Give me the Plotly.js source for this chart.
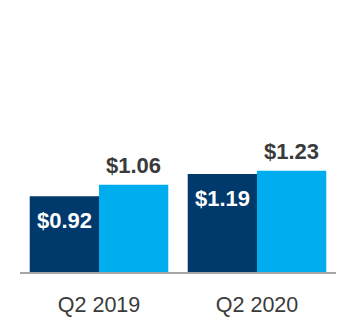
<!DOCTYPE html>
<html>
<head>
<meta charset="utf-8">
<script src="https://cdn.plot.ly/plotly-3.0.1.min.js"></script>
<style>html,body{margin:0;padding:0;background:#fff;}#chart{width:356px;height:332px;}</style>
</head>
<body>
<div id="chart"></div>
<script>
const categories = ['Q2 2019', 'Q2 2020'];
const seriesA = [0.92, 1.19];
const seriesB = [1.06, 1.23];
const fmt = v => '$' + v.toFixed(2);

const darkColor = '#00396b';
const lightColor = '#00aeef';
const textColor = '#3a3a3a';
const bargap = 0.123;
const barHalf = (1 - bargap) / 4;

const traces = [
  {type: 'bar', x: [0, 1], y: seriesA, marker: {color: darkColor}, hoverinfo: 'none'},
  {type: 'bar', x: [0, 1], y: seriesB, marker: {color: lightColor}, hoverinfo: 'none'}
];

const annotations = [];
seriesA.forEach((v, i) => annotations.push({
  x: i - barHalf, y: v, xref: 'x', yref: 'y', text: fmt(v), showarrow: false,
  yanchor: 'middle', yshift: -24,
  font: {family: 'Liberation Sans, Arial, sans-serif', size: 22, color: '#ffffff', weight: 'bold'}
}));
seriesB.forEach((v, i) => annotations.push({
  x: i + barHalf, y: v, xref: 'x', yref: 'y', text: fmt(v), showarrow: false,
  yanchor: 'middle', yshift: 19,
  font: {family: 'Liberation Sans, Arial, sans-serif', size: 22, color: textColor, weight: 'bold'}
}));

const layout = {
  width: 356, height: 332,
  margin: {l: 20, r: 20, t: 20, b: 60},
  paper_bgcolor: '#ffffff', plot_bgcolor: '#ffffff',
  barmode: 'group', bargap: bargap, bargroupgap: 0,
  showlegend: false,
  xaxis: {
    range: [-0.5, 1.5], tickvals: [0, 1], ticktext: categories,
    showgrid: false, zeroline: false, showline: true, linecolor: '#a6a6a6', linewidth: 2,
    ticks: 'outside', ticklen: 12, tickcolor: 'rgba(0,0,0,0)',
    tickfont: {family: 'Liberation Sans, Arial, sans-serif', size: 21.5, color: textColor},
    fixedrange: true
  },
  yaxis: {range: [0, 3.062], visible: false, showgrid: false, zeroline: false, fixedrange: true},
  annotations: annotations
};

Plotly.newPlot('chart', traces, layout, {displayModeBar: false, staticPlot: true});
</script>
</body>
</html>
